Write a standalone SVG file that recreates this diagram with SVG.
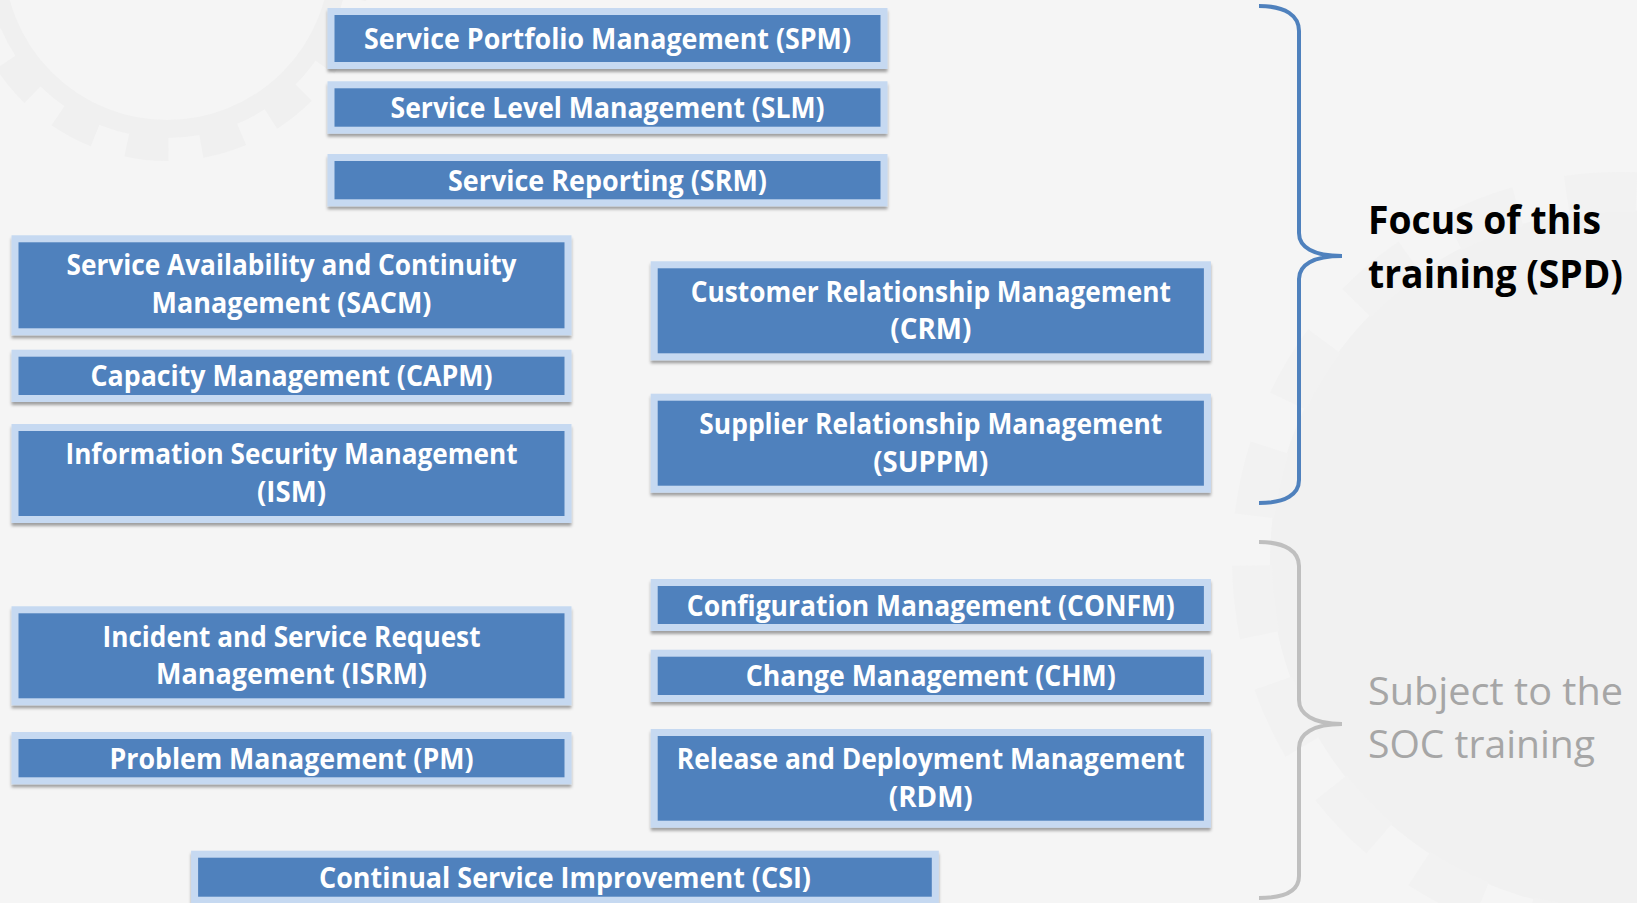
<svg xmlns="http://www.w3.org/2000/svg" width="1637" height="903" viewBox="0 0 1637 903">
<defs>
<filter id="sh" x="-5%" y="-20%" width="110%" height="150%">
<feDropShadow dx="0" dy="3" stdDeviation="1.6" flood-color="#000" flood-opacity="0.35"/>
</filter>
</defs>
<style>
.box{fill:#4f81bd;stroke:#c6d9f1;stroke-width:7;filter:url(#sh)}
.t{font-family:"Open Sans","Liberation Sans",sans-serif;font-weight:700;font-size:28px;fill:#fff;text-anchor:middle}
.brace{fill:none;stroke-width:4;stroke-linecap:butt}
.lbl{font-family:"Open Sans","Liberation Sans",sans-serif;font-size:39px}
</style>
<rect x="0" y="0" width="1637" height="903" fill="#f5f5f5"/>
<g id="background" fill="none">
<circle cx="167" cy="-43" r="172" stroke="#f0f0f0" stroke-width="18"/>
<circle cx="167" cy="-43" r="192" stroke="#f0f0f0" stroke-width="24" stroke-dasharray="42 33"/>
<circle cx="1620" cy="560" r="350" fill="#f1f1f1"/>
<circle cx="1620" cy="560" r="368" stroke="#f2f2f2" stroke-width="40" stroke-dasharray="70 50"/>
</g>

<g id="SPM"><rect class="box" x="331" y="11.5" width="553" height="54"/><text class="t" x="607.5" y="49" textLength="487" lengthAdjust="spacingAndGlyphs">Service Portfolio Management (SPM)</text></g>
<g id="SLM"><rect class="box" x="331" y="84.8" width="553" height="45.4"/><text class="t" x="607.5" y="118" textLength="434" lengthAdjust="spacingAndGlyphs">Service Level Management (SLM)</text></g>
<g id="SRM"><rect class="box" x="331" y="157.5" width="553" height="45.3"/><text class="t" x="607.5" y="190.5" textLength="319" lengthAdjust="spacingAndGlyphs">Service Reporting (SRM)</text></g>

<g id="SACM"><rect class="box" x="15" y="238.8" width="553" height="93"/><text class="t" x="291.5" y="275" textLength="450" lengthAdjust="spacingAndGlyphs">Service Availability and Continuity</text><text class="t" x="291.5" y="313" textLength="280" lengthAdjust="spacingAndGlyphs">Management (SACM)</text></g>
<g id="CAPM"><rect class="box" x="15" y="353.2" width="553" height="45.3"/><text class="t" x="291.5" y="386.3" textLength="402" lengthAdjust="spacingAndGlyphs">Capacity Management (CAPM)</text></g>
<g id="ISM"><rect class="box" x="15" y="427.5" width="553" height="92"/><text class="t" x="291.5" y="463.5" textLength="452" lengthAdjust="spacingAndGlyphs">Information Security Management</text><text class="t" x="291.5" y="501.5" textLength="69" lengthAdjust="spacingAndGlyphs">(ISM)</text></g>
<g id="ISRM"><rect class="box" x="15" y="609.8" width="553" height="92"/><text class="t" x="291.5" y="646.5" textLength="378" lengthAdjust="spacingAndGlyphs">Incident and Service Request</text><text class="t" x="291.5" y="684" textLength="271" lengthAdjust="spacingAndGlyphs">Management (ISRM)</text></g>
<g id="PM"><rect class="box" x="15" y="735.5" width="553" height="45.3"/><text class="t" x="291.5" y="768.7" textLength="364" lengthAdjust="spacingAndGlyphs">Problem Management (PM)</text></g>

<g id="CRM"><rect class="box" x="654.2" y="264.8" width="553.2" height="92"/><text class="t" x="930.8" y="301.5" textLength="480" lengthAdjust="spacingAndGlyphs">Customer Relationship Management</text><text class="t" x="930.8" y="339" textLength="81" lengthAdjust="spacingAndGlyphs">(CRM)</text></g>
<g id="SUPPM"><rect class="box" x="654.2" y="397.2" width="553.2" height="92"/><text class="t" x="930.8" y="434" textLength="463" lengthAdjust="spacingAndGlyphs">Supplier Relationship Management</text><text class="t" x="930.8" y="471.5" textLength="115" lengthAdjust="spacingAndGlyphs">(SUPPM)</text></g>
<g id="CONFM"><rect class="box" x="654.2" y="582.5" width="553.2" height="45"/><text class="t" x="930.8" y="615.5" textLength="488" lengthAdjust="spacingAndGlyphs">Configuration Management (CONFM)</text></g>
<g id="CHM"><rect class="box" x="654.2" y="653.2" width="553.2" height="45.3"/><text class="t" x="930.8" y="686.3" textLength="370" lengthAdjust="spacingAndGlyphs">Change Management (CHM)</text></g>
<g id="RDM"><rect class="box" x="654.2" y="732.5" width="553.2" height="91.7"/><text class="t" x="930.8" y="769" textLength="508" lengthAdjust="spacingAndGlyphs">Release and Deployment Management</text><text class="t" x="930.8" y="806.5" textLength="84" lengthAdjust="spacingAndGlyphs">(RDM)</text></g>

<g id="CSI"><rect class="box" x="194.6" y="854.2" width="740.7" height="46"/><text class="t" x="565" y="887.5" textLength="492" lengthAdjust="spacingAndGlyphs">Continual Service Improvement (CSI)</text></g>

<g id="connectors">
<path class="brace" stroke="#4f81bd" d="M1259,6 C1286,6 1299,16 1299,31 L1299,233 C1299,247 1313,256 1342,256 C1313,256 1299,265 1299,279 L1299,480 C1299,494 1286,503 1259,503"/>
<path class="brace" stroke="#bfbfbf" d="M1259,542 C1286,542 1299,552 1299,566 L1299,700 C1299,714 1313,724 1342,724 C1313,724 1299,734 1299,748 L1299,876 C1299,890 1286,898 1259,898"/>
</g>

<g id="label-focus"><text class="lbl" x="1368" y="234" font-weight="700" fill="#000" textLength="233" lengthAdjust="spacingAndGlyphs">Focus of this</text><text class="lbl" x="1368" y="288" font-weight="700" fill="#000" textLength="255" lengthAdjust="spacingAndGlyphs">training (SPD)</text></g>
<g id="label-soc"><text class="lbl" x="1368" y="705" fill="#a6a6a6" textLength="255" lengthAdjust="spacingAndGlyphs">Subject to the</text><text class="lbl" x="1368" y="758" fill="#a6a6a6" textLength="227" lengthAdjust="spacingAndGlyphs">SOC training</text></g>
</svg>
